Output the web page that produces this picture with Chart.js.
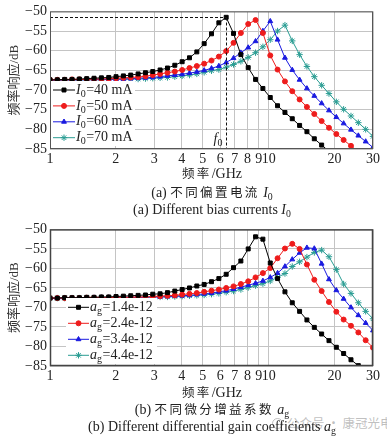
<!DOCTYPE html>
<html>
<head>
<meta charset="utf-8">
<script src="https://cdn.jsdelivr.net/npm/chart.js@4/dist/chart.umd.min.js"></script>
<style>
  body { margin: 0; background: #fff; width: 387px; height: 439px; position: relative; overflow: hidden;
         font-family: "Liberation Serif", "Noto Sans CJK SC", serif; color: #222; }
  canvas { position: absolute; left: 0; }
  .t { position: absolute; left: 0; width: 424px; text-align: center; white-space: nowrap; line-height: 18px; font-size: 14px; }
  .cjk { font-family: "Noto Sans CJK SC", sans-serif; font-size: 12.5px; letter-spacing: 2.4px; }
  sub { font-size: 70%; vertical-align: -0.3em; line-height: 0; }
  .wm { position: absolute; left: 272px; top: 413px; font-family: "Noto Sans CJK SC", sans-serif; font-size: 12.5px;
        color: rgba(150,150,150,0.6); white-space: nowrap; z-index: 0; }
  .wm span.ic { display: inline-block; width: 9px; height: 9px; border: 1.5px solid rgba(150,150,150,0.6);
                border-radius: 50%; margin-right: 4px; vertical-align: -1px; }
</style>
</head>
<body>
<div class="wm"><span class="ic"></span>公众号 · 康冠光电</div>
<canvas id="chartA" width="387" height="168" style="top:0"></canvas>
<canvas id="chartB" width="387" height="167" style="top:218px"></canvas>

<div class="t" style="top:164px"><span class="cjk">频率</span>/GHz</div>
<div class="t" style="top:183px">(a) <span class="cjk">不同偏置电流</span> <i>I</i><sub>0</sub></div>
<div class="t" style="top:201px">(a) Different bias currents <i>I</i><sub>0</sub></div>
<div class="t" style="top:383px"><span class="cjk">频率</span>/GHz</div>
<div class="t" style="top:400px">(b) <span class="cjk">不同微分增益系数</span> <i>a</i><sub>g</sub></div>
<div class="t" style="top:418px">(b) Different differential gain coefficients <i>a</i><sub>g</sub></div>

<script>
// frequency grid shared by every curve (GHz)
const freqGHz = [1.000, 1.080, 1.167, 1.261, 1.362, 1.472, 1.590, 1.718, 1.856, 2.005,
  2.166, 2.340, 2.529, 2.732, 2.951, 3.188, 3.445, 3.722, 4.021, 4.344,
  4.693, 5.070, 5.478, 5.918, 6.393, 6.907, 7.462, 8.062, 8.710, 9.410,
  10.17, 10.98, 11.87, 12.82, 13.85, 14.96, 16.17, 17.47, 18.87, 20.39,
  22.02, 23.79, 25.71, 27.77, 30.00];

const xTickVals = [1, 2, 3, 4, 5, 6, 7, 8, 9, 10, 20, 30];

// (a) bias current I0
const biasLabels = ["40 mA", "50 mA", "60 mA", "70 mA"];
const respI40 = [-67.4, -67.4, -67.3, -67.3, -67.2, -67.1, -67.0, -66.9, -66.8, -66.6,
  -66.4, -66.2, -65.9, -65.6, -65.3, -64.9, -64.4, -63.7, -62.8, -61.8,
  -60.3, -58.2, -55.7, -52.9, -51.5, -55.6, -61.0, -64.3, -67.3, -69.6,
  -71.9, -74.0, -75.7, -77.3, -79.0, -80.6, -82.4, -84.0, -85.6, null,
  null, null, null, null, null];
const respI50 = [-67.4, -67.4, -67.4, -67.3, -67.3, -67.3, -67.2, -67.2, -67.1, -67.0,
  -66.9, -66.8, -66.7, -66.5, -66.2, -65.9, -65.6, -65.3, -64.9, -64.4,
  -63.9, -63.3, -62.5, -61.5, -60.1, -58.0, -55.5, -53.2, -52.2, -55.5,
  -61.2, -64.8, -67.8, -70.3, -72.4, -74.3, -76.1, -77.9, -79.6, -81.2,
  -82.7, -84.2, -85.7, null, null];
const respI60 = [-67.5, -67.5, -67.4, -67.4, -67.4, -67.4, -67.3, -67.3, -67.3, -67.2,
  -67.2, -67.1, -67.0, -66.9, -66.8, -66.6, -66.4, -66.2, -66.0, -65.7,
  -65.4, -65.0, -64.5, -63.9, -63.0, -61.9, -60.5, -59.2, -57.6, -55.0,
  -52.5, -57.2, -61.8, -64.9, -67.4, -69.6, -71.5, -73.4, -75.2, -76.9,
  -78.5, -80.1, -81.6, -83.1, -84.6];
const respI70 = [-67.5, -67.5, -67.5, -67.5, -67.4, -67.4, -67.4, -67.4, -67.3, -67.3,
  -67.3, -67.2, -67.2, -67.1, -67.0, -66.9, -66.8, -66.6, -66.4, -66.2,
  -65.9, -65.5, -65.1, -64.8, -64.2, -63.5, -62.7, -61.7, -60.5, -59.0,
  -57.2, -55.0, -53.5, -57.5, -61.0, -64.0, -66.6, -68.8, -70.9, -73.0,
  -74.9, -76.6, -78.3, -80.0, -81.8];

// (b) differential gain coefficient ag
const gainLabels = ["1.4e-12", "2.4e-12", "3.4e-12", "4.4e-12"];
const respA14 = [-67.6, -67.6, -67.5, -67.5, -67.5, -67.4, -67.4, -67.3, -67.3, -67.2,
  -67.1, -67.0, -66.9, -66.8, -66.6, -66.5, -66.2, -65.8, -65.4, -65.0,
  -64.5, -64.1, -63.4, -62.6, -61.5, -59.8, -58.1, -55.0, -51.9, -52.5,
  -58.6, -62.6, -66.0, -68.8, -71.0, -73.2, -75.1, -76.8, -78.5, -80.2,
  -81.8, -83.4, -84.9, -86.4, null];
const respA24 = [-67.6, -67.6, -67.6, -67.6, -67.6, -67.5, -67.5, -67.5, -67.5, -67.4,
  -67.4, -67.4, -67.3, -67.3, -67.2, -67.1, -67.0, -66.9, -66.7, -66.5,
  -66.3, -66.0, -65.7, -65.4, -65.0, -64.6, -64.0, -63.3, -62.3, -61.2,
  -59.9, -57.4, -54.9, -53.7, -55.0, -59.0, -62.9, -65.8, -68.6, -71.1,
  -73.1, -74.7, -76.4, -78.4, -80.3];
const respA34 = [-67.6, -67.6, -67.6, -67.6, -67.6, -67.6, -67.5, -67.5, -67.5, -67.5,
  -67.4, -67.4, -67.4, -67.4, -67.3, -67.3, -67.2, -67.1, -67.0, -66.9,
  -66.7, -66.5, -66.3, -66.0, -65.7, -65.3, -64.8, -64.3, -63.8, -63.2,
  -62.3, -61.2, -59.5, -57.7, -56.0, -54.7, -54.9, -58.8, -62.8, -65.6,
  -67.8, -70.0, -72.0, -74.0, -75.9];
const respA44 = [-67.6, -67.6, -67.6, -67.6, -67.6, -67.6, -67.6, -67.5, -67.5, -67.5,
  -67.5, -67.4, -67.4, -67.4, -67.3, -67.3, -67.3, -67.2, -67.1, -67.0,
  -66.9, -66.8, -66.6, -66.4, -66.1, -65.8, -65.4, -64.9, -64.4, -63.9,
  -63.2, -62.3, -61.3, -59.5, -58.3, -57.1, -55.9, -55.3, -57.0, -60.3,
  -64.0, -66.4, -68.8, -71.0, -72.9];

const seriesColors = ["#000000", "#ee1c1c", "#1a1ae0", "#2a9d93"];
const seriesMarkers = ["rect", "circle", "triangle", "star"];
const markerRadius = [2.8, 2.5, 2.8, 3.2];

const FONT = '"Liberation Serif", "Noto Sans CJK SC", serif';
Chart.defaults.font.family = FONT;
Chart.defaults.font.size = 14;
Chart.defaults.color = "#222";

function drawRich(ctx, parts, x, y) {
  for (const p of parts) {
    const size = p.sub ? 10 : 14;
    ctx.font = (p.italic ? "italic " : "") + size + "px " + FONT;
    ctx.fillText(p.t, x, y + (p.sub ? 4 : 0));
    x += ctx.measureText(p.t).width + (p.sub ? 0.5 : 0);
  }
  return x;
}

function drawMarker(ctx, style, r, x, y, color) {
  ctx.fillStyle = color;
  ctx.strokeStyle = color;
  ctx.lineWidth = 1;
  Chart.helpers.drawPoint(ctx, { pointStyle: style, radius: r, rotation: 0, borderWidth: 1 }, x, y);
}

// frame, inset legend and the optional f0 marker
const decorPlugin = {
  id: "decor",
  afterDatasetsDraw(chart, args, o) {
    const { ctx, chartArea: a } = chart;
    ctx.save();
    ctx.textBaseline = "middle";
    ctx.textAlign = "left";

    if (o.peakSeries != null) {
      const vals = chart.data.datasets[o.peakSeries].data;
      let best = vals[0];
      vals.forEach((p) => { if (p.y != null && p.y > best.y) best = p; });
      const px = Math.round(chart.scales.x.getPixelForValue(best.x)) + 0.5;
      const py = Math.round(chart.scales.y.getPixelForValue(best.y)) + 0.5;
      ctx.strokeStyle = "#111";
      ctx.lineWidth = 1;
      ctx.setLineDash([3, 2]);
      ctx.beginPath();
      ctx.moveTo(a.left, py); ctx.lineTo(px, py);
      ctx.moveTo(px, py); ctx.lineTo(px, a.bottom);
      ctx.stroke();
      ctx.setLineDash([]);
      ctx.fillStyle = "#222";
      drawRich(ctx, [{ t: "f", italic: true }, { t: "0", sub: true }], px - 13, a.bottom - 10);
    }

    const L = o.legend;
    ctx.fillStyle = "#fff";
    ctx.fillRect(L.box[0], L.box[1], L.box[2], L.box[3]);
    L.items.forEach((it, i) => {
      const y = L.y0 + i * L.dy;
      ctx.strokeStyle = seriesColors[i];
      ctx.lineWidth = 1;
      ctx.beginPath();
      ctx.moveTo(L.x0, y); ctx.lineTo(L.x1, y);
      ctx.stroke();
      drawMarker(ctx, seriesMarkers[i], markerRadius[i], (L.x0 + L.x1) / 2, y, seriesColors[i]);
      ctx.fillStyle = "#222";
      drawRich(ctx, it, L.tx, y);
    });

    ctx.strokeStyle = o.frameColor;
    ctx.lineWidth = o.frameWidth;
    ctx.strokeRect(a.left + 0.5, a.top + 0.5, a.right - a.left - 1, a.bottom - a.top - 1);
    ctx.restore();
  }
};

function buildChart(canvasId, series, legend, extra) {
  const datasets = series.map((vals, i) => ({
    data: freqGHz.map((f, k) => ({ x: f, y: vals[k] })),
    borderColor: seriesColors[i],
    backgroundColor: seriesColors[i],
    pointBackgroundColor: seriesColors[i],
    pointBorderColor: seriesColors[i],
    pointStyle: seriesMarkers[i],
    pointRadius: markerRadius[i],
    pointBorderWidth: 1,
    borderWidth: 1,
    tension: 0,
    spanGaps: false,
  }));

  return new Chart(document.getElementById(canvasId), {
    type: "line",
    data: { datasets },
    plugins: [decorPlugin],
    options: {
      responsive: false,
      animation: false,
      devicePixelRatio: 1,
      events: [],
      layout: { padding: { left: 0, top: 9, right: 14, bottom: 0 } },
      scales: {
        x: {
          type: "logarithmic",
          min: 1,
          max: 30,
          afterFit: (s) => { s.height = 19; },
          afterBuildTicks: (s) => { s.ticks = xTickVals.map((v) => ({ value: v })); },
          ticks: { autoSkip: false, maxRotation: 0, padding: 2, color: "#222", callback: (v) => String(v) },
          grid: {
            drawTicks: false,
            color: "#c4c4c4",
            borderDash: (c) => (c.tick && c.tick.value === 10 ? [] : [2, 2]),
          },
          border: { display: false },
        },
        y: {
          min: -85,
          max: -50,
          afterFit: (s) => { s.width = 50; },
          ticks: { stepSize: 5, autoSkip: false, padding: 3, color: "#222",
                   callback: (v) => (v < 0 ? "\u2212" + Math.abs(v) : String(v)) },
          grid: {
            drawTicks: false,
            color: "#c4c4c4",
            borderDash: (c) => (c.tick && c.tick.value % 10 === 0 ? [] : [2, 2]),
          },
          border: { display: false },
          title: {
            display: true,
            text: "频率响应/dB",
            font: { size: 13 },
            color: "#333",
            padding: { top: 7, bottom: 0 },
          },
        },
      },
      plugins: {
        legend: { display: false },
        tooltip: { enabled: false },
        decor: Object.assign({ legend }, extra),
      },
    },
  });
}

buildChart("chartA", [respI40, respI50, respI60, respI70], {
  box: [51, 81, 84, 65], x0: 53, x1: 75, tx: 76, y0: 90, dy: 15.9,
  items: biasLabels.map((l) => [{ t: "I", italic: true }, { t: "0", sub: true }, { t: "=" + l }]),
}, { peakSeries: 0, frameColor: "#555", frameWidth: 1 });

buildChart("chartB", [respA14, respA24, respA34, respA44], {
  box: [66, 80, 91, 66], x0: 68, x1: 89, tx: 90, y0: 89.3, dy: 16,
  items: gainLabels.map((l) => [{ t: "a", italic: true }, { t: "g", sub: true }, { t: "=" + l }]),
}, { peakSeries: null, frameColor: "#444", frameWidth: 1.5 });
</script>
</body>
</html>
